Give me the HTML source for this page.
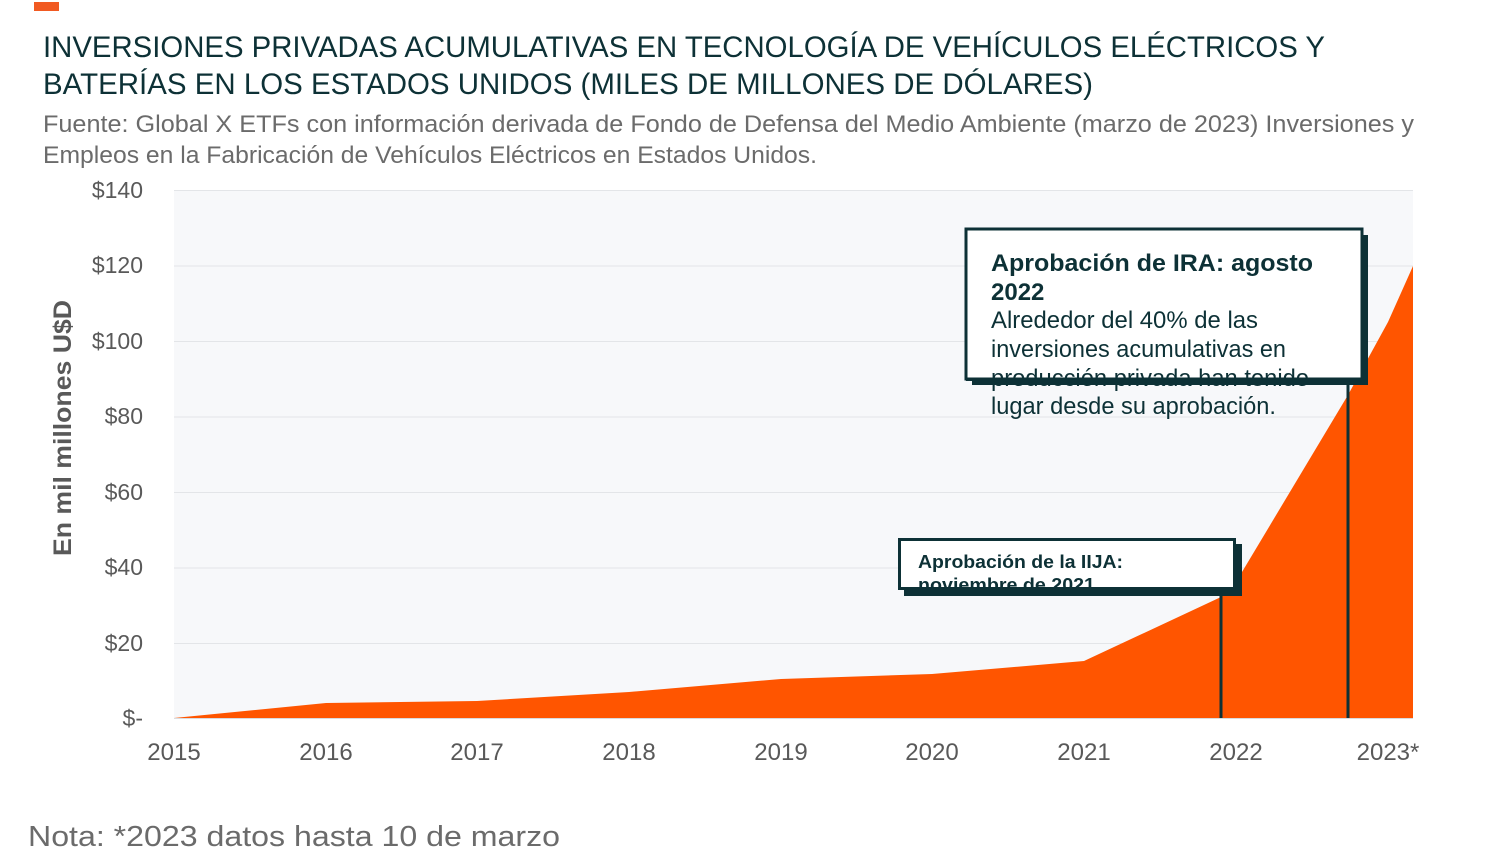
<!DOCTYPE html>
<html><head><meta charset="utf-8"><style>
html,body{margin:0;padding:0;background:#fff;}
svg{display:block;font-family:"Liberation Sans","DejaVu Sans",sans-serif;}
</style></head><body>
<svg width="1503" height="861" viewBox="0 0 1503 861" xmlns="http://www.w3.org/2000/svg">
<rect x="34" y="2" width="25" height="9" fill="#f15a22"/>
<text x="43" y="57" font-size="30" fill="#0d3136" textLength="1282" lengthAdjust="spacingAndGlyphs">INVERSIONES PRIVADAS ACUMULATIVAS EN TECNOLOGÍA DE VEHÍCULOS ELÉCTRICOS Y</text>
<text x="43" y="94" font-size="30" fill="#0d3136" textLength="1050" lengthAdjust="spacingAndGlyphs">BATERÍAS EN LOS ESTADOS UNIDOS (MILES DE MILLONES DE DÓLARES)</text>
<text x="43" y="132" font-size="24" fill="#6b6b6b" textLength="1371" lengthAdjust="spacingAndGlyphs">Fuente: Global X ETFs con información derivada de Fondo de Defensa del Medio Ambiente (marzo de 2023) Inversiones y</text>
<text x="43" y="163" font-size="24" fill="#6b6b6b" textLength="774" lengthAdjust="spacingAndGlyphs">Empleos en la Fabricación de Vehículos Eléctricos en Estados Unidos.</text>
<rect x="174" y="190" width="1239" height="528" fill="#f7f8fa"/>
<g stroke="#e3e5e8" stroke-width="1">
<line x1="174" y1="190.5" x2="1413" y2="190.5"/><line x1="174" y1="266" x2="1413" y2="266"/><line x1="174" y1="341.5" x2="1413" y2="341.5"/><line x1="174" y1="417" x2="1413" y2="417"/><line x1="174" y1="492.5" x2="1413" y2="492.5"/><line x1="174" y1="568" x2="1413" y2="568"/><line x1="174" y1="643.5" x2="1413" y2="643.5"/>
</g>
<polygon fill="#ff5500" points="174,718 326,703 477,701 629,692 781,679 932,674 1084,661 1221,597 1236,582 1348,395 1388,322 1413,266 1413,718"/>
<line x1="174" y1="718.5" x2="1413" y2="718.5" stroke="#d9dbde" stroke-width="1"/>
<g font-size="23" fill="#595959" text-anchor="end">
<text x="143" y="198">$140</text><text x="143" y="273">$120</text><text x="143" y="349">$100</text><text x="143" y="424">$80</text><text x="143" y="500">$60</text><text x="143" y="575">$40</text><text x="143" y="651">$20</text><text x="143" y="726">$-</text>
</g>
<g font-size="24" fill="#595959" text-anchor="middle">
<text x="174" y="760">2015</text><text x="326" y="760">2016</text><text x="477" y="760">2017</text><text x="629" y="760">2018</text><text x="781" y="760">2019</text><text x="932" y="760">2020</text><text x="1084" y="760">2021</text><text x="1236" y="760">2022</text><text x="1388" y="760">2023*</text>
</g>
<text transform="translate(71,428) rotate(-90)" font-size="25" font-weight="bold" fill="#595959" text-anchor="middle" textLength="256" lengthAdjust="spacingAndGlyphs">En mil millones U$D</text>
<line x1="1221" y1="590" x2="1221" y2="718" stroke="#0d3136" stroke-width="3"/>
<line x1="1348" y1="380" x2="1348" y2="718" stroke="#0d3136" stroke-width="3"/>
<rect x="972" y="235" width="396" height="150" fill="#0d3136"/>
<rect x="966" y="229" width="396" height="150" fill="#fff" stroke="#0d3136" stroke-width="3"/>
<text x="991" y="271" font-size="24" font-weight="bold" fill="#0d3136" textLength="322" lengthAdjust="spacingAndGlyphs">Aprobación de IRA: agosto</text>
<text x="991" y="300" font-size="24" font-weight="bold" fill="#0d3136">2022</text>
<g font-size="24" fill="#0d3136">
<text x="991" y="328" textLength="267" lengthAdjust="spacingAndGlyphs">Alrededor del 40% de las</text>
<text x="991" y="357" textLength="295" lengthAdjust="spacingAndGlyphs">inversiones acumulativas en</text>
<text x="991" y="386" textLength="318" lengthAdjust="spacingAndGlyphs">producción privada han tenido</text>
<text x="991" y="414" textLength="285" lengthAdjust="spacingAndGlyphs">lugar desde su aprobación.</text>
</g>
<rect x="966" y="378" width="396" height="3" fill="#0d3136"/>
<rect x="972" y="381" width="396" height="4" fill="#0d3136"/>
<rect x="904" y="544" width="338" height="52" fill="#0d3136"/>
<svg x="898" y="538" width="338" height="52">
<rect x="1.5" y="1.5" width="335" height="49" fill="#fff" stroke="#0d3136" stroke-width="3"/>
<text x="20" y="30" font-size="18" font-weight="bold" fill="#0d3136" textLength="205" lengthAdjust="spacingAndGlyphs">Aprobación de la IIJA:</text>
<text x="20" y="53" font-size="18" font-weight="bold" fill="#0d3136" textLength="177" lengthAdjust="spacingAndGlyphs">noviembre de 2021</text>
<rect x="0" y="49" width="338" height="3" fill="#0d3136"/>
</svg>
<text x="28" y="846" font-size="29" fill="#6b6b6b" textLength="532" lengthAdjust="spacingAndGlyphs">Nota: *2023 datos hasta 10 de marzo</text>
</svg>
</body></html>
